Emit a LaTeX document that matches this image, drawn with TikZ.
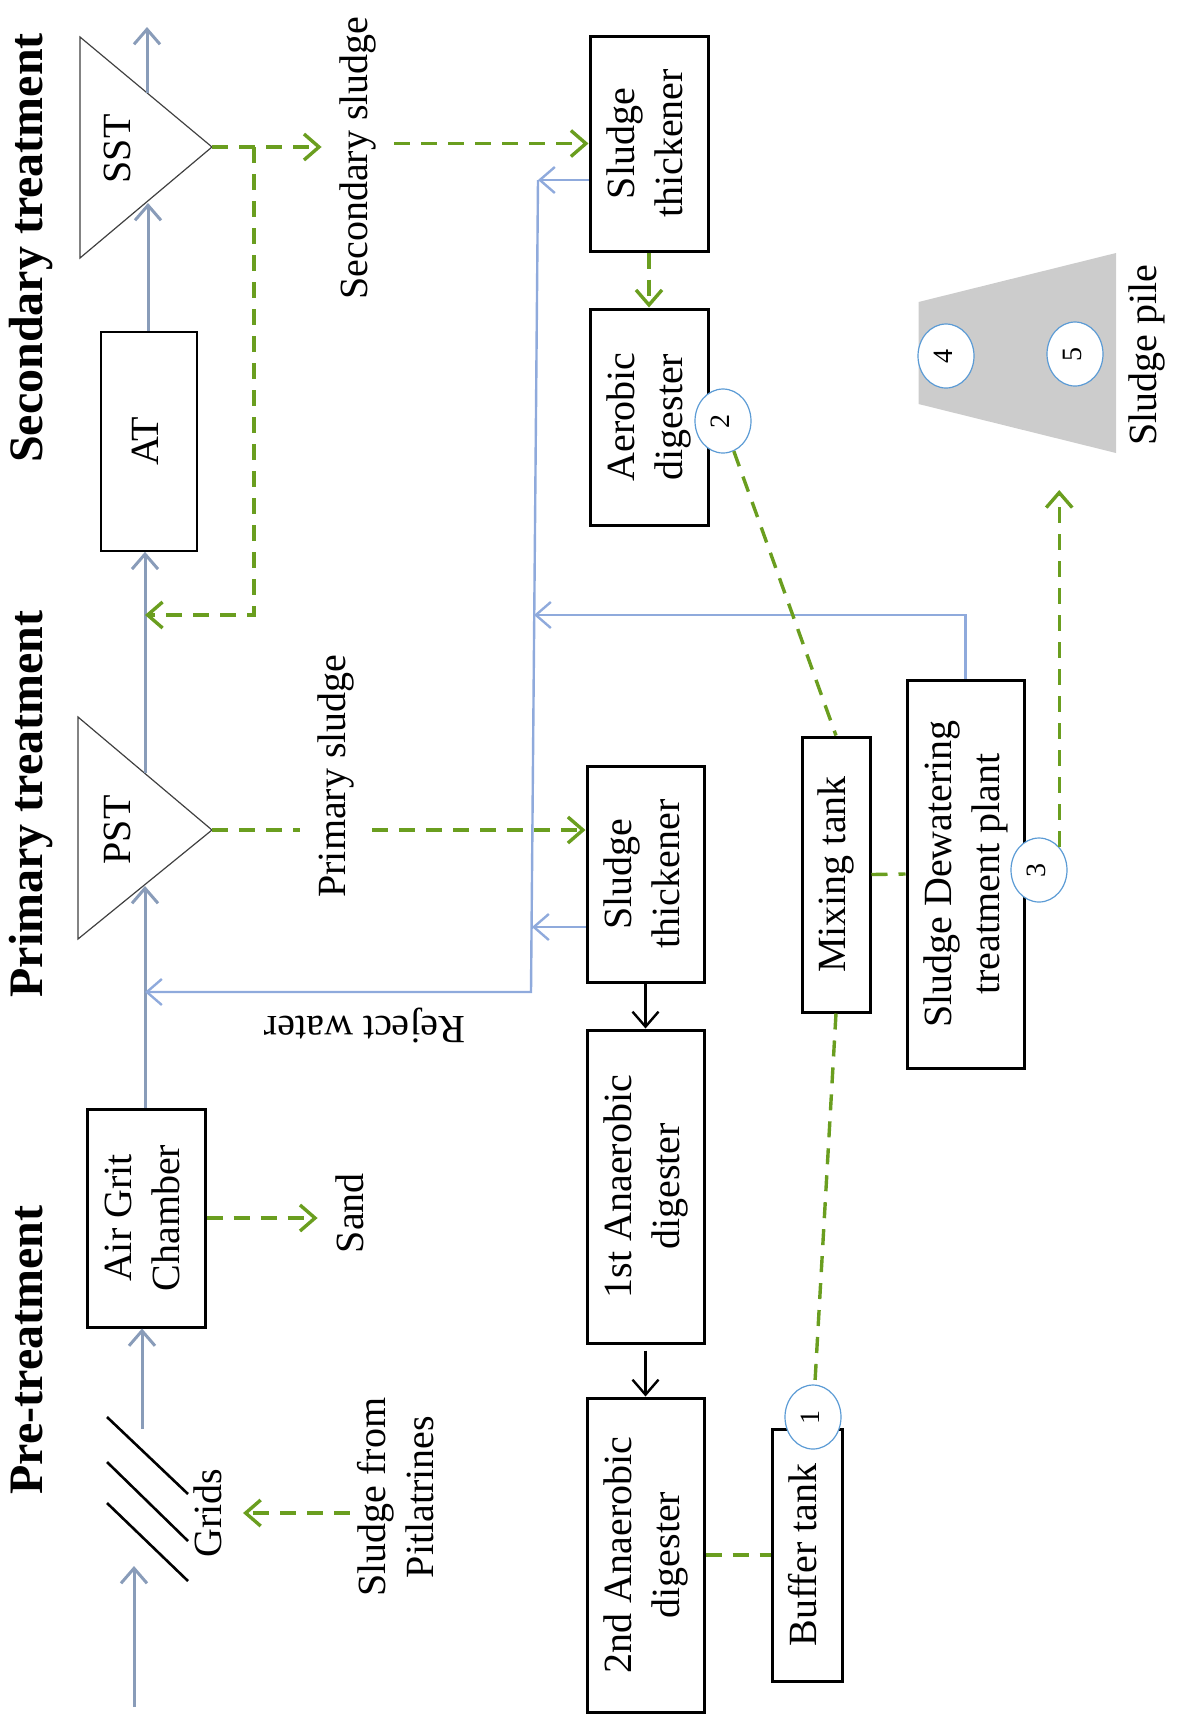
\documentclass[tikz,border=0pt]{standalone}
\usepackage{fontspec}
\setmainfont{Liberation Serif}
\usetikzlibrary{arrows.meta,shapes.geometric}

\definecolor{flowcol}{RGB}{137,156,185}
\definecolor{rejcol}{RGB}{143,170,220}
\definecolor{sludcol}{RGB}{106,158,31}
\definecolor{numcol}{RGB}{91,155,213}
\definecolor{pilecol}{RGB}{204,204,204}

% text turned to read upwards
\newcommand{\vtxt}[1]{\rotatebox{90}{\begin{tabular}{@{}c@{}}#1\end{tabular}}}

\tikzset{
  >={Straight Barb[length=7.5pt,width=13pt]},
  unit/.style={draw=black, line width=1.5pt, inner sep=0pt},
  tri/.style={draw=black!75, line width=0.6pt},
  lbl/.style={inner xsep=6pt, inner ysep=0pt},
  title/.style={font=\bfseries\fontsize{24}{28}\selectfont},
  num/.style={ellipse, draw=numcol, fill=white, line width=0.6pt, inner sep=0pt,
    minimum width=28pt, minimum height=32pt, font=\fontsize{14}{16}\selectfont},
  flow/.style={draw=flowcol, line width=1.5pt, ->},
  reject/.style={draw=rejcol, line width=1.2pt},
  sludge/.style={draw=sludcol, line width=1.7pt, dash pattern=on 8pt off 5.5pt},
  dig/.style={draw=black, line width=1.2pt, ->},
}

\begin{document}
\begin{tikzpicture}[x=0.5pt, y=-0.5pt, font=\fontsize{20}{24}\selectfont]
\useasboundingbox (0,0) rectangle (1185,1715);

% stage titles
\node[title] (tsec) at (31,248) {\vtxt{Secondary treatment}};
\node[title] (tpri) at (31,804) {\vtxt{Primary treatment}};
\node[title] (tpre) at (31,1350) {\vtxt{Pre-treatment}};

% water line
\draw[tri] (80,37) -- (80,258) -- (212,147) -- cycle;
\node (sst) at (121,149) {\vtxt{SST}};
\draw[tri] (78,717) -- (78,939) -- (212,830) -- cycle;
\node (pst) at (121,830) {\vtxt{PST}};
\coordinate (sstap) at (212,147);
\coordinate (sstin) at (148,203);
\coordinate (sstout) at (147,93);
\coordinate (outlet) at (147,27);
\coordinate (pstap) at (212,830);
\coordinate (pstin) at (145,886);
\coordinate (pstout) at (145,773);

\node[unit, line width=0.8pt, minimum width=48pt, minimum height=109.5pt] (at) at (149,441.5) {\vtxt{AT}};
\node[unit, minimum width=59pt, minimum height=109pt] (agc) at (146,1218) {\vtxt{Air Grit\\Chamber}};

% grids
\draw[line width=1.3pt] (107,1417) -- (188,1494);
\draw[line width=1.3pt] (107,1462) -- (188,1541);
\draw[line width=1.3pt] (107,1503) -- (188,1581);
\node (grids) at (212,1513) {\vtxt{Grids}};
\coordinate (inlet) at (134,1707);
\coordinate (gridbot) at (134,1566);
\coordinate (gridtop) at (142,1429);

\draw[flow] (inlet) -- (gridbot);
\draw[flow] (gridtop) -- (gridtop |- agc.south);
\draw[flow] (agc.north -| pstin) -- (pstin);
\draw[flow] (pstout) -- (pstout |- at.south);
\draw[flow] (at.north -| sstin) -- (sstin);
\draw[flow] (sstout) -- (outlet);

% side streams
\node[lbl] (sand) at (354,1213) {\vtxt{Sand}};
\node[lbl, inner xsep=1pt] (pit) at (400,1497) {\vtxt{Sludge from\\Pitlatrines}};
\node[lbl] (secsl) at (358,158) {\vtxt{Secondary sludge}};
\node[lbl] (prisl) at (336,776) {\vtxt{Primary sludge}};
\node[rotate=180] (rejw) at (365,1025) {Reject water};

% sludge line
\node[unit, minimum width=59pt, minimum height=107.5pt] (thicka) at (649,143.5) {\vtxt{Sludge\\thickener}};
\node[unit, minimum width=59pt, minimum height=108pt] (aerob) at (649,417) {\vtxt{Aerobic\\digester}};
\node[unit, minimum width=58.5pt, minimum height=108pt] (thickb) at (645.5,874) {\vtxt{Sludge\\thickener}};
\node[unit, minimum width=58.5pt, minimum height=156.5pt] (anaa) at (645.5,1186.5) {\vtxt{1st Anaerobic\\digester}};
\node[unit, minimum width=58.5pt, minimum height=157pt] (anab) at (645.5,1555) {\vtxt{2nd Anaerobic\\digester}};
\node[unit, minimum width=34pt, minimum height=137.5pt] (mix) at (836,874.5) {\vtxt{Mixing tank}};
\node[unit, minimum width=58.5pt, minimum height=194pt] (dew) at (965.5,874) {\vtxt{Sludge Dewatering\\treatment plant}};
\node[unit, minimum width=35pt, minimum height=126pt] (buf) at (807,1555) {\vtxt{Buffer tank}};

% sludge pile
\fill[pilecol] (918.5,302) -- (1116,253) -- (1116,453) -- (918.5,404) -- cycle;
\node (pile) at (1147,355) {\vtxt{Sludge pile}};
\coordinate (pilein) at (1065,490);

% sludge connectors
\draw[sludge, ->] (agc.east) -- (agc.east -| sand.west);
\draw[sludge, ->] (pit.west |- grids) -- (grids.east);
\draw[sludge, ->] (sstap) -- (sstap -| secsl.west);
\draw[sludge, ->] (secsl.east |- thicka.west) -- (thicka.west);
\coordinate (ret1) at (254,147);
\coordinate (ret2) at (254,615);
\draw[sludge, ->] (ret1) -- (ret2) -- (ret2 -| pstout);
\draw[sludge] (pstap) -- (pstap -| prisl.west);
\draw[sludge, ->] (pstap -| prisl.east) -- (pstap -| thickb.west);
\draw[sludge, ->] (thicka.south) -- (aerob.north);
\draw[dig] (thickb.south) -- (anaa.north);
\draw[dig] ([yshift=-3pt]anaa.south) -- (anab.north);
\draw[sludge] (mix.east) -- (dew.west);
\draw[sludge] (anab.east) -- (buf.west);

% reject water
\coordinate (rtop) at (538,180);
\coordinate (rmid) at (534,615);
\coordinate (rlow) at (532,927);
\coordinate (rbot) at (531,992);
\draw[reject, ->] (thicka.west |- rtop) -- (rtop);
\draw[reject, ->] (dew.north) |- (rmid);
\draw[reject, ->] (thickb.west |- rlow) -- (rlow);
\draw[reject, ->] (rtop) -- (rbot) -- (rbot -| pstin);

% numbered points
\node[num] (n1) at (813,1417) {\vtxt{1}};
\node[num] (n2) at (723,421) {\vtxt{2}};
\node[num] (n3) at (1039,870) {\vtxt{3}};
\node[num] (n4) at (946,356) {\vtxt{4}};
\node[num] (n5) at (1075,354) {\vtxt{5}};
\draw[sludge] (n2) -- (mix.north);
\draw[sludge] (mix.south) -- (n1);
\draw[sludge, ->] (n3.north east) -- (n3.north east |- pilein);

\end{tikzpicture}
\end{document}
